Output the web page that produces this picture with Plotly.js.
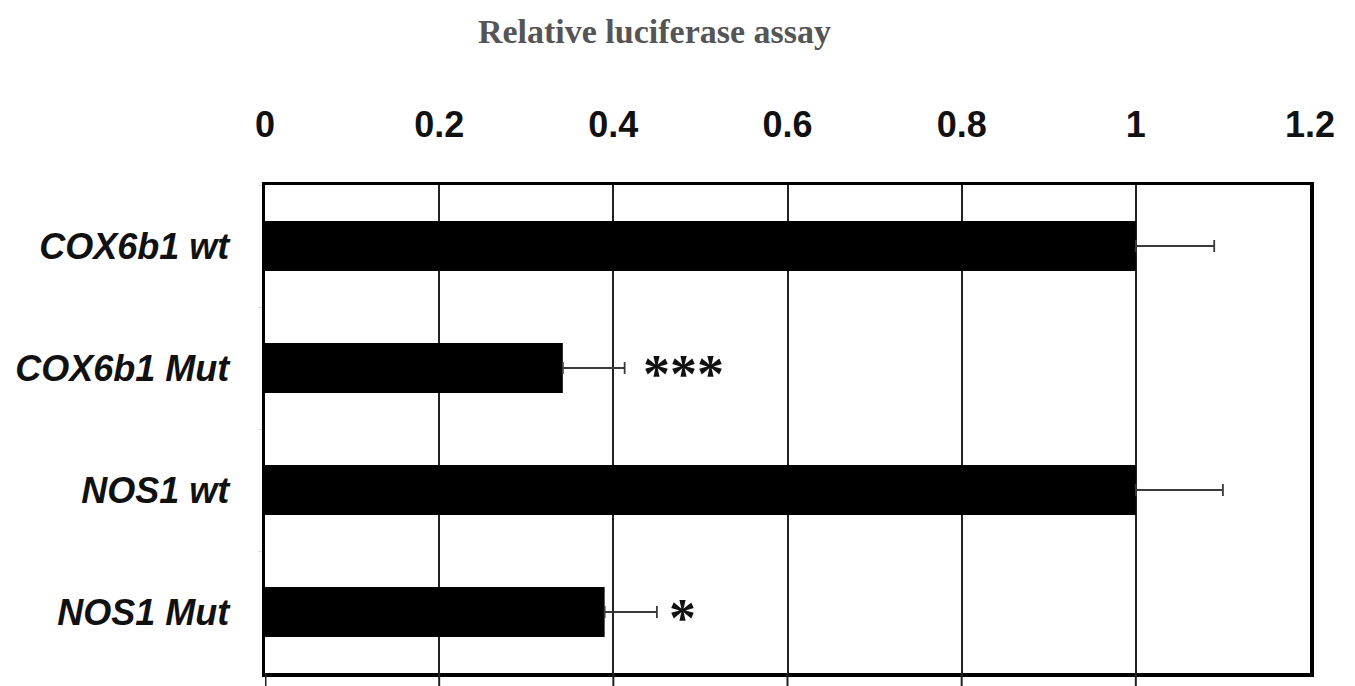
<!DOCTYPE html>
<html>
<head>
<meta charset="utf-8">
<script src="https://cdn.plot.ly/plotly-3.0.1.min.js"></script>
<style>html,body{margin:0;padding:0;background:#fff;}#chart{width:1355px;height:686px;}</style>
</head>
<body>
<div id="chart"></div>
<script>
const categories = ["COX6b1 wt", "COX6b1 Mut", "NOS1 wt", "NOS1 Mut"];
const values = [1.0, 0.342, 1.0, 0.39];
const errors = [0.09, 0.071, 0.10, 0.06];
const significance = ["", "***", "", "*"];
const xTicks = [0, 0.2, 0.4, 0.6, 0.8, 1, 1.2];
const xTickLabels = ["0", "0.2", "0.4", "0.6", "0.8", "1", "1.2"];

const trace = {
  type: "bar",
  orientation: "h",
  y: categories,
  x: values,
  marker: {color: "#000000", line: {width: 0}},
  error_x: {
    type: "data",
    symmetric: false,
    array: errors,
    arrayminus: errors.map(() => 0),
    color: "#3a3a3a",
    thickness: 1.8,
    width: 6
  },
  hoverinfo: "skip"
};

const sigShift = [0, 16, 0, 10];
const annotations = [];
categories.forEach((c, i) => {
  if (significance[i]) {
    annotations.push({
      x: values[i] + errors[i],
      y: c,
      xref: "x", yref: "y",
      text: "<b>" + significance[i] + "</b>",
      showarrow: false,
      xanchor: "left",
      xshift: sigShift[i],
      yshift: -6,
      font: {family: "Liberation Serif, Times New Roman, serif", size: 54, color: "#111"}
    });
  }
});

// gridline continuation below the cropped bottom edge
const shapes = xTicks.slice(0, 6).map(v => ({
  type: "line", xref: "x", yref: "paper",
  x0: v, x1: v, y0: 0, y1: -0.04,
  line: {color: "#222", width: v === 0 ? 3 : 2}
}));

const layout = {
  width: 1355, height: 686,
  margin: {l: 265, r: 45, t: 185, b: 13, pad: 0},
  paper_bgcolor: "#ffffff",
  plot_bgcolor: "#ffffff",
  showlegend: false,
  bargap: 0.59,
  title: {
    text: "<b>Relative luciferase assay</b>",
    x: 0.483, xanchor: "center", xref: "container",
    y: 0.955, yanchor: "middle", yref: "container",
    font: {family: "Liberation Serif, Times New Roman, serif", size: 34, color: "#555555"}
  },
  xaxis: {
    side: "top",
    range: [0, 1.2],
    tickvals: xTicks,
    ticktext: xTickLabels,
    ticks: "",
    ticklabelstandoff: 30,
    tickfont: {family: "Liberation Sans, Arial, sans-serif", size: 36, color: "#111", weight: "bold"},
    showgrid: true,
    gridcolor: "#222",
    gridwidth: 2,
    showline: true,
    linecolor: "#000",
    linewidth: 3.5,
    mirror: true,
    zeroline: false,
    fixedrange: true
  },
  yaxis: {
    type: "category",
    autorange: "reversed",
    ticks: "outside",
    tickson: "boundaries",
    ticklen: 4,
    tickcolor: "#dddddd",
    tickwidth: 1,
    ticklabelstandoff: 25,
    tickfont: {family: "Liberation Sans, Arial, sans-serif", size: 36, color: "#111", weight: "bold", style: "italic"},
    showgrid: false,
    showline: true,
    linecolor: "#000",
    linewidth: 3.5,
    mirror: true,
    zeroline: false,
    fixedrange: true
  },
  annotations: annotations,
  shapes: shapes
};

Plotly.newPlot("chart", [trace], layout, {displayModeBar: false, staticPlot: true});
</script>
</body>
</html>
